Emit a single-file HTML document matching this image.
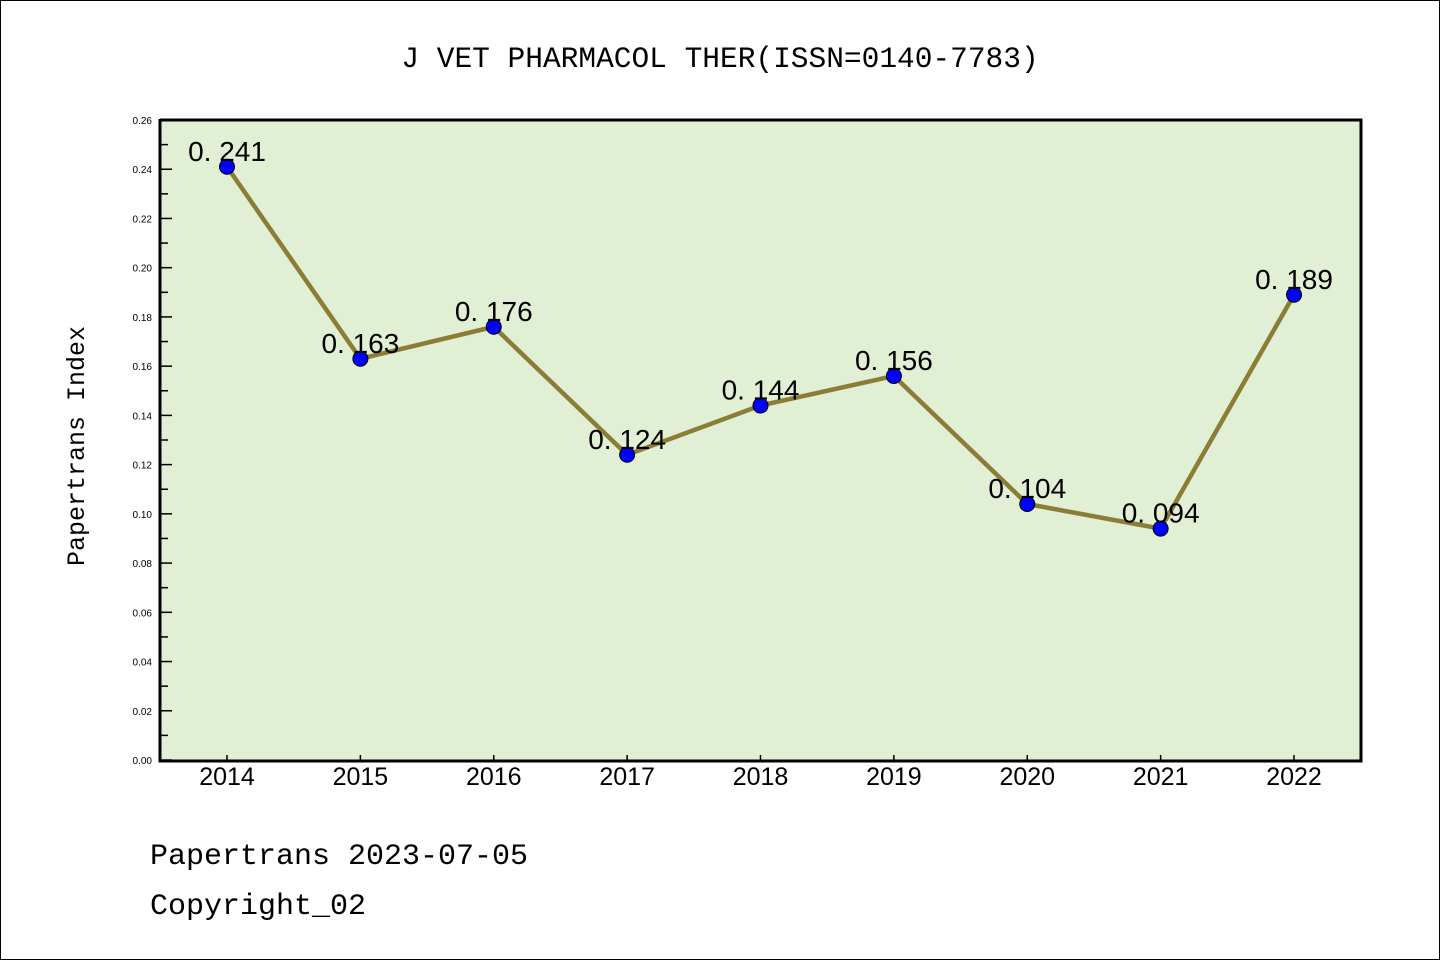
<!DOCTYPE html>
<html><head><meta charset="utf-8"><style>
html,body{margin:0;padding:0;background:#fff;}
svg{display:block;}
</style></head><body>
<svg width="1440" height="960" xmlns="http://www.w3.org/2000/svg">
<rect x="0.5" y="0.5" width="1439" height="959" fill="#fff" stroke="#000"/>
<text x="720" y="67" text-anchor="middle" font-family="Liberation Mono, monospace" font-size="29.5">J VET PHARMACOL THER(ISSN=0140-7783)</text>
<rect x="160" y="120" width="1201" height="641" fill="#e1efd4"/>
<g id="axes"></g>
<g id="marks"></g>
<path d="M160,119 V761 H1361 V120 H160" fill="none" stroke="#000" stroke-width="3"/>
<text transform="translate(84,446) rotate(-90)" text-anchor="middle" font-family="Liberation Mono, monospace" font-size="25">Papertrans Index</text>
<text x="150" y="864" font-family="Liberation Mono, monospace" font-size="30">Papertrans 2023-07-05</text>
<text x="150" y="914" font-family="Liberation Mono, monospace" font-size="30">Copyright_02</text>
</svg>
<script>
const years = ['2014','2015','2016','2017','2018','2019','2020','2021','2022'];
const values = [0.241,0.163,0.176,0.124,0.144,0.156,0.104,0.094,0.189];
const yTicks = ['0.00','0.02','0.04','0.06','0.08','0.10','0.12','0.14','0.16','0.18','0.20','0.22','0.24','0.26'];
const NS='http://www.w3.org/2000/svg';
function xs(i){return 227+i*(1294-227)/(years.length-1);}
function ys(v){return 760-v/0.26*640;}
function mk(tag,attrs,parent){const e=document.createElementNS(NS,tag);for(const k in attrs)e.setAttribute(k,attrs[k]);parent.appendChild(e);return e;}
const axes=document.getElementById('axes'), marks=document.getElementById('marks');
yTicks.forEach((t,i)=>{
  const v=parseFloat(t), y=ys(v);
  const l=mk('line',{x1:160,x2:172,y1:y,y2:y,stroke:'#000','stroke-width':1.5},axes);
  
  
  if(i<yTicks.length-1){const y2=ys(v+0.01);
    const m=mk('line',{x1:160,x2:168,y1:y2,y2:y2,stroke:'#000','stroke-width':1.5},axes);
    
    }
  const tx=mk('text',{x:152,y:y+4,'text-anchor':'end','font-family':'Liberation Sans, sans-serif','font-size':10},axes);
  tx.textContent=t;
  
  
});
years.forEach((yr,i)=>{
  const x=xs(i);
  const l=mk('line',{x1:x,x2:x,y1:755,y2:761,stroke:'#000','stroke-width':1.5},axes);
  
  
  const tx=mk('text',{x:x,y:785,'text-anchor':'middle','font-family':'Liberation Sans, sans-serif','font-size':25},axes);
  tx.textContent=yr;
  
  
});
const pts=values.map((v,i)=>xs(i)+','+ys(v)).join(' ');
const line=mk('polyline',{points:pts,fill:'none',stroke:'#8b7d35','stroke-width':4.5},marks);


values.forEach((v,i)=>{
  const c=mk('circle',{cx:xs(i),cy:ys(v),r:7.5,fill:'#0000ff',stroke:'#000','stroke-width':1},marks);
  
  
  const t=mk('text',{x:xs(i),y:ys(v)-6,'text-anchor':'middle','font-family':'Liberation Sans, sans-serif','font-size':28},marks);
  t.textContent=v.toFixed(3).replace('.','. ');
  
  
});
</script>
</body></html>
